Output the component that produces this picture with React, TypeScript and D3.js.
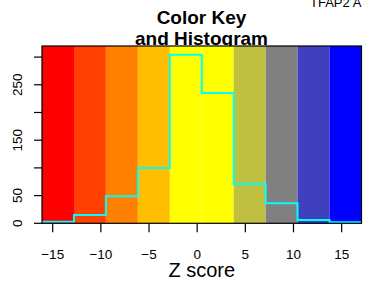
import React from "react";
import * as d3 from "d3";

const breaks = [-16.11, -12.79, -9.48, -6.16, -2.84, 0.47, 3.79, 7.11, 10.42, 13.74, 17.06];
const binColors = ["#FF0000", "#FF4000", "#FF8000", "#FFBF00", "#FFFF00", "#FFFF00", "#BFBF40", "#808080", "#4040BF", "#0000FF"];
const counts = [3, 15, 49, 100, 304, 235, 71, 36, 6, 2];
const xTicks = [-15, -10, -5, 0, 5, 10, 15];
const yTicks = [0, 50, 100, 150, 200, 250, 300];
const yLabeled = [0, 50, 150, 250];

const W = 373, H = 288;
const left = 42, right = 361.5, top = 46, bottom = 223.3;
const font = "'Liberation Sans', Arial, Helvetica, sans-serif";

export default function App() {
  const x = d3.scaleLinear().domain([breaks[0], breaks[breaks.length - 1]]).range([left, right]);
  const y = d3.scaleLinear().domain([0, 320]).range([bottom, top]);
  const pts: [number, number][] = breaks.map((b, i) => [b, counts[Math.min(i, counts.length - 1)]]);
  const line = d3.line<[number, number]>().x(d => x(d[0])).y(d => y(d[1])).curve(d3.curveStepAfter);
  const fmt = (v: number) => (v < 0 ? "\u2212" + Math.abs(v) : String(v));
  return (
    <svg width={W} height={H} style={{ position: "absolute", left: 0, top: 0, fontFamily: font }}>
      <rect width={W} height={H} fill="#fff" />
      <text x={310} y={6.5} fontSize={13} fill="#000">TFAP2 A</text>
      <text x={201.5} y={24} fontSize={19} fontWeight="bold" textAnchor="middle">Color Key</text>
      <text x={201.5} y={45} fontSize={19} fontWeight="bold" textAnchor="middle">and Histogram</text>
      {binColors.map((c, i) => (
        <rect key={i} x={x(breaks[i])} y={top} width={x(breaks[i + 1]) - x(breaks[i])} height={bottom - top} fill={c} />
      ))}
      <path d={line(pts) || ""} fill="none" stroke="#00FFFF" strokeWidth={2} />
      <rect x={left} y={top} width={right - left} height={bottom - top} fill="none" stroke="#000" strokeWidth={1.2} />
      {xTicks.map(t => (
        <g key={t}>
          <line x1={x(t)} x2={x(t)} y1={bottom} y2={bottom + 9} stroke="#000" strokeWidth={1.2} />
          <text x={x(t)} y={259} fontSize={13.5} textAnchor="middle">{fmt(t)}</text>
        </g>
      ))}
      {yTicks.map(t => (
        <g key={t}>
          <line x1={left - 8} x2={left} y1={y(t)} y2={y(t)} stroke="#000" strokeWidth={1.2} />
          {yLabeled.includes(t) && (
            <text transform={`translate(22,${y(t)}) rotate(-90)`} fontSize={13.5} textAnchor="middle">{t}</text>
          )}
        </g>
      ))}
      <text x={(left + right) / 2} y={277} fontSize={20} textAnchor="middle">Z score</text>
    </svg>
  );
}
